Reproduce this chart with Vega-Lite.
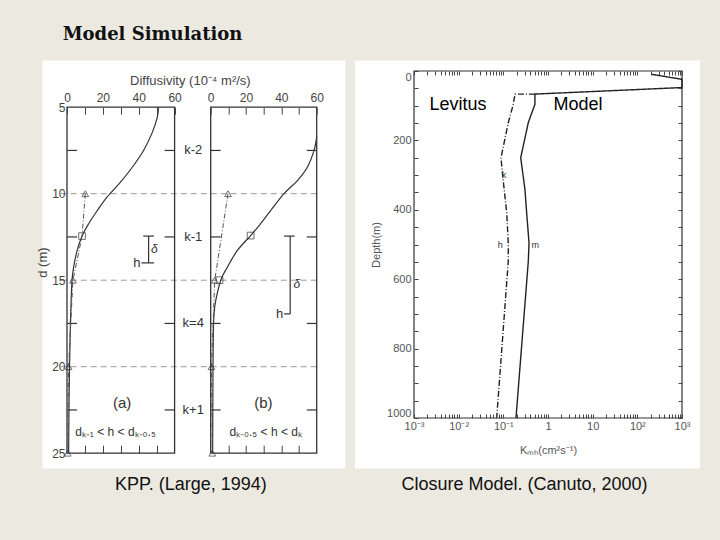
{
  "$schema": "https://vega.github.io/schema/vega-lite/v6.json",
  "background": "#ECE9E1",
  "padding": {"left": 36, "top": 26, "right": 26, "bottom": 52},
  "title": {"text": "Model Simulation", "anchor": "start", "dx": 26, "font": "DejaVu Serif", "fontSize": 18, "fontWeight": "bold", "color": "#111", "offset": 16},
  "datasets": {
    "one": [{}],
    "levels": [{"d": 10}, {"d": 15}, {"d": 20}],
    "klevels": [{"d": 7.5, "k": "k-2"}, {"d": 12.5, "k": "k-1"}, {"d": 17.5, "k": "k=4"}, {"d": 22.5, "k": "k+1"}],
    "a_solid": [{"K": 51, "d": 5}, {"K": 50.3, "d": 5.6}, {"K": 47.4, "d": 6.5}, {"K": 42.7, "d": 7.5}, {"K": 36.2, "d": 8.5}, {"K": 29.7, "d": 9.35}, {"K": 22.3, "d": 10.2}, {"K": 16.7, "d": 11}, {"K": 12, "d": 11.75}, {"K": 8.4, "d": 12.45}, {"K": 5.6, "d": 13.3}, {"K": 3.7, "d": 14.25}, {"K": 2.8, "d": 15}, {"K": 2.2, "d": 16.5}, {"K": 1.8, "d": 18}, {"K": 1.4, "d": 20}, {"K": 1.1, "d": 22.5}, {"K": 0.9, "d": 25}],
    "a_dash": [{"K": 10.2, "d": 10}, {"K": 8.4, "d": 12.45}, {"K": 3.3, "d": 15}, {"K": 0.9, "d": 20}, {"K": 0.4, "d": 25}],
    "a_marks": [{"K": 10.2, "d": 10, "kind": "level"}, {"K": 8.4, "d": 12.45, "kind": "boundary"}, {"K": 3.3, "d": 15, "kind": "level"}, {"K": 0.9, "d": 20, "kind": "level"}, {"K": 0.4, "d": 25, "kind": "level"}],
    "b_solid": [{"K": 60, "d": 6.7}, {"K": 58.5, "d": 7.5}, {"K": 54.7, "d": 8.47}, {"K": 49.1, "d": 9.24}, {"K": 41.5, "d": 10}, {"K": 34, "d": 10.97}, {"K": 27.4, "d": 11.84}, {"K": 22.6, "d": 12.42}, {"K": 15.1, "d": 13.28}, {"K": 9.4, "d": 14.25}, {"K": 5.7, "d": 15}, {"K": 2.8, "d": 16.2}, {"K": 1.9, "d": 16.95}, {"K": 1.5, "d": 18}, {"K": 1.3, "d": 20}, {"K": 1.2, "d": 22.5}, {"K": 1.1, "d": 25}],
    "b_dash": [{"K": 9.8, "d": 10}, {"K": 2.3, "d": 15}, {"K": 0.4, "d": 20}, {"K": 0.9, "d": 25}],
    "b_marks": [{"K": 9.8, "d": 10, "kind": "level"}, {"K": 22.6, "d": 12.42, "kind": "boundary"}, {"K": 2.3, "d": 15, "kind": "level"}, {"K": 5, "d": 15, "kind": "boundary"}, {"K": 0.4, "d": 20, "kind": "level"}, {"K": 0.9, "d": 25, "kind": "level"}],
    "closure": [
      {"series": "Model", "i": 1, "K": 209, "depth": 9.5},
      {"series": "Model", "i": 2, "K": 1000, "depth": 24},
      {"series": "Model", "i": 3, "K": 1000, "depth": 47.7},
      {"series": "Model", "i": 4, "K": 0.51, "depth": 66.5},
      {"series": "Model", "i": 5, "K": 0.51, "depth": 96},
      {"series": "Model", "i": 6, "K": 0.395, "depth": 135},
      {"series": "Model", "i": 7, "K": 0.362, "depth": 149},
      {"series": "Model", "i": 8, "K": 0.245, "depth": 250},
      {"series": "Model", "i": 9, "K": 0.305, "depth": 342},
      {"series": "Model", "i": 10, "K": 0.333, "depth": 409},
      {"series": "Model", "i": 11, "K": 0.376, "depth": 496},
      {"series": "Model", "i": 12, "K": 0.362, "depth": 549},
      {"series": "Model", "i": 13, "K": 0.192, "depth": 1000},
      {"series": "Levitus", "i": 1, "K": 0.51, "depth": 66.5},
      {"series": "Levitus", "i": 2, "K": 0.182, "depth": 66.5},
      {"series": "Levitus", "i": 3, "K": 0.167, "depth": 96},
      {"series": "Levitus", "i": 4, "K": 0.129, "depth": 149},
      {"series": "Levitus", "i": 5, "K": 0.0887, "depth": 250},
      {"series": "Levitus", "i": 6, "K": 0.097, "depth": 303},
      {"series": "Levitus", "i": 7, "K": 0.119, "depth": 408},
      {"series": "Levitus", "i": 8, "K": 0.129, "depth": 496},
      {"series": "Levitus", "i": 9, "K": 0.129, "depth": 549},
      {"series": "Levitus", "i": 10, "K": 0.071, "depth": 1000}
    ],
    "tags": [{"tag": "k", "K": 0.103, "depth": 300}, {"tag": "h", "K": 0.085, "depth": 500}, {"tag": "m", "K": 0.52, "depth": 500}]
  },
  "spacing": 8,
  "hconcat": [
    {
      "bounds": "flush",
      "spacing": 35.7,
      "title": {"text": "KPP. (Large, 1994)", "orient": "bottom", "anchor": "middle", "offset": 8, "font": "Liberation Sans", "fontSize": 18, "fontWeight": "normal", "color": "#111"},
      "hconcat": [
        {
          "width": 107.6,
          "height": 382.2,
          "resolve": {"axis": {"x": "independent", "y": "independent"}},
          "layer": [
            {"data": {"name": "one"}, "mark": {"type": "rect", "color": "white"},
             "encoding": {
               "x": {"datum": -13.77, "type": "quantitative", "scale": {"domain": [0, 60], "nice": false, "zero": false},
                     "axis": {"orient": "top", "offset": -36.2, "zindex": 1, "values": [0, 10, 20, 30, 40, 50, 60], "labelExpr": "datum.value % 20 == 0 ? datum.label : ''", "tickSize": -7, "labelPadding": 10, "labelFontSize": 12, "labelColor": "#444", "title": null, "labelFlush": false, "labelOverlap": false}},
               "x2": {"datum": 155.2},
               "y": {"datum": 2.3, "type": "quantitative", "scale": {"domain": [2.908, 25], "reverse": true, "nice": false, "zero": false},
                     "axis": {"orient": "left", "zindex": 1, "values": [5, 10, 15, 20, 25], "tickSize": 0, "labelPadding": 2, "labelFontSize": 12, "labelColor": "#444", "title": "d (m)", "titleFontSize": 13, "titleColor": "#444", "titlePadding": 2, "labelFlush": false, "labelOverlap": false}},
               "y2": {"datum": 25.88}}},
            {"data": {"name": "levels"}, "mark": {"type": "rule", "color": "#9a9a9a", "strokeDash": [6, 4], "strokeWidth": 1},
             "encoding": {"x": {"datum": -3.5, "type": "quantitative", "scale": {"domain": [0, 60], "nice": false, "zero": false}, "axis": null}, "x2": {"datum": 139},
               "y": {"field": "d", "type": "quantitative", "scale": {"domain": [2.908, 25], "reverse": true, "nice": false, "zero": false}, "axis": null}}},
            {"data": {"name": "one"}, "mark": {"type": "rect", "filled": false, "color": "#333", "strokeWidth": 1.3},
             "encoding": {
               "x": {"datum": 0, "type": "quantitative", "scale": {"domain": [0, 60], "nice": false, "zero": false},
                     "axis": {"orient": "bottom", "zindex": 1, "values": [10, 20, 30, 40, 50], "labels": false, "tickSize": -8, "title": null}},
               "x2": {"datum": 60},
               "y": {"datum": 5, "type": "quantitative", "scale": {"domain": [2.908, 25], "reverse": true, "nice": false, "zero": false}, "axis": null},
               "y2": {"datum": 25}}},
            {"data": {"name": "klevels"}, "mark": {"type": "rule", "color": "#333", "strokeWidth": 1.2},
             "encoding": {"x": {"datum": 0, "type": "quantitative", "scale": {"domain": [0, 60], "nice": false, "zero": false}, "axis": null}, "x2": {"datum": 5.6},
               "y": {"field": "d", "type": "quantitative", "scale": {"domain": [2.908, 25], "reverse": true, "nice": false, "zero": false}, "axis": null}}},
            {"data": {"name": "klevels"}, "mark": {"type": "rule", "color": "#333", "strokeWidth": 1.2},
             "encoding": {"x": {"datum": 54.4, "type": "quantitative", "scale": {"domain": [0, 60], "nice": false, "zero": false}, "axis": null}, "x2": {"datum": 60},
               "y": {"field": "d", "type": "quantitative", "scale": {"domain": [2.908, 25], "reverse": true, "nice": false, "zero": false}, "axis": null}}},
            {"data": {"name": "klevels"}, "mark": {"type": "text", "fontSize": 13, "color": "#333", "align": "center", "baseline": "middle"},
             "encoding": {"x": {"datum": 70.4, "type": "quantitative", "scale": {"domain": [0, 60], "nice": false, "zero": false}, "axis": null},
               "y": {"field": "d", "type": "quantitative", "scale": {"domain": [2.908, 25], "reverse": true, "nice": false, "zero": false}, "axis": null},
               "text": {"field": "k"}}},
            {"data": {"name": "a_solid"}, "mark": {"type": "line", "color": "#333", "strokeWidth": 1.2, "interpolate": "cardinal"},
             "encoding": {"x": {"field": "K", "type": "quantitative", "scale": {"domain": [0, 60], "nice": false, "zero": false}, "axis": null},
               "y": {"field": "d", "type": "quantitative", "scale": {"domain": [2.908, 25], "reverse": true, "nice": false, "zero": false}, "axis": null},
               "order": {"field": "d", "type": "quantitative"}}},
            {"data": {"name": "a_dash"}, "mark": {"type": "line", "color": "#555", "strokeWidth": 1, "strokeDash": [5, 2, 1, 2]},
             "encoding": {"x": {"field": "K", "type": "quantitative", "scale": {"domain": [0, 60], "nice": false, "zero": false}, "axis": null},
               "y": {"field": "d", "type": "quantitative", "scale": {"domain": [2.908, 25], "reverse": true, "nice": false, "zero": false}, "axis": null},
               "order": {"field": "d", "type": "quantitative"}}},
            {"data": {"name": "a_marks"}, "mark": {"type": "point", "filled": false, "color": "#333", "size": 45, "strokeWidth": 1},
             "encoding": {"x": {"field": "K", "type": "quantitative", "scale": {"domain": [0, 60], "nice": false, "zero": false}, "axis": null},
               "y": {"field": "d", "type": "quantitative", "scale": {"domain": [2.908, 25], "reverse": true, "nice": false, "zero": false}, "axis": null},
               "shape": {"field": "kind", "type": "nominal", "scale": {"domain": ["level", "boundary"], "range": ["triangle-up", "square"]}, "legend": null}}},
            {"data": {"name": "one"}, "mark": {"type": "rule", "color": "#333", "strokeWidth": 1.2},
             "encoding": {"x": {"datum": 45.5, "type": "quantitative", "scale": {"domain": [0, 60], "nice": false, "zero": false}, "axis": null},
               "y": {"datum": 12.45, "type": "quantitative", "scale": {"domain": [2.908, 25], "reverse": true, "nice": false, "zero": false}, "axis": null}, "y2": {"datum": 14}}},
            {"data": {"name": "one"}, "mark": {"type": "rule", "color": "#333", "strokeWidth": 1.2},
             "encoding": {"x": {"datum": 42.5, "type": "quantitative", "scale": {"domain": [0, 60], "nice": false, "zero": false}, "axis": null}, "x2": {"datum": 48.5},
               "y": {"datum": 12.45, "type": "quantitative", "scale": {"domain": [2.908, 25], "reverse": true, "nice": false, "zero": false}, "axis": null}}},
            {"data": {"name": "one"}, "mark": {"type": "rule", "color": "#333", "strokeWidth": 1.2},
             "encoding": {"x": {"datum": 41.5, "type": "quantitative", "scale": {"domain": [0, 60], "nice": false, "zero": false}, "axis": null}, "x2": {"datum": 48.5},
               "y": {"datum": 14, "type": "quantitative", "scale": {"domain": [2.908, 25], "reverse": true, "nice": false, "zero": false}, "axis": null}}},
            {"data": {"name": "one"}, "mark": {"type": "text", "text": "h", "fontSize": 13, "color": "#333", "align": "right", "baseline": "middle"},
             "encoding": {"x": {"datum": 41, "type": "quantitative", "scale": {"domain": [0, 60], "nice": false, "zero": false}, "axis": null},
               "y": {"datum": 14, "type": "quantitative", "scale": {"domain": [2.908, 25], "reverse": true, "nice": false, "zero": false}, "axis": null}}},
            {"data": {"name": "one"}, "mark": {"type": "text", "text": "δ", "fontSize": 12, "fontStyle": "italic", "color": "#333", "align": "left", "baseline": "middle"},
             "encoding": {"x": {"datum": 46.8, "type": "quantitative", "scale": {"domain": [0, 60], "nice": false, "zero": false}, "axis": null},
               "y": {"datum": 13.2, "type": "quantitative", "scale": {"domain": [2.908, 25], "reverse": true, "nice": false, "zero": false}, "axis": null}}},
            {"data": {"name": "one"}, "mark": {"type": "text", "text": "(a)", "fontSize": 15, "color": "#333", "align": "center", "baseline": "middle"},
             "encoding": {"x": {"datum": 30.7, "type": "quantitative", "scale": {"domain": [0, 60], "nice": false, "zero": false}, "axis": null},
               "y": {"datum": 22.1, "type": "quantitative", "scale": {"domain": [2.908, 25], "reverse": true, "nice": false, "zero": false}, "axis": null}}},
            {"data": {"name": "one"}, "mark": {"type": "text", "text": "dₖ₋₁ < h < dₖ₋₀.₅", "fontSize": 12, "color": "#333", "align": "center", "baseline": "middle"},
             "encoding": {"x": {"datum": 27, "type": "quantitative", "scale": {"domain": [0, 60], "nice": false, "zero": false}, "axis": null},
               "y": {"datum": 23.8, "type": "quantitative", "scale": {"domain": [2.908, 25], "reverse": true, "nice": false, "zero": false}, "axis": null}}},
            {"data": {"name": "one"}, "mark": {"type": "text", "text": "Diffusivity (10⁻⁴ m²/s)", "fontSize": 13, "color": "#444", "align": "center", "baseline": "middle"},
             "encoding": {"x": {"datum": 68.8, "type": "quantitative", "scale": {"domain": [0, 60], "nice": false, "zero": false}, "axis": null},
               "y": {"datum": 3.5, "type": "quantitative", "scale": {"domain": [2.908, 25], "reverse": true, "nice": false, "zero": false}, "axis": null}}}
          ]
        },
        {
          "width": 106,
          "height": 382.2,
          "resolve": {"axis": {"x": "independent", "y": "independent"}},
          "layer": [
            {"data": {"name": "one"}, "mark": {"type": "rect", "filled": false, "color": "#333", "strokeWidth": 1.3},
             "encoding": {
               "x": {"datum": 0, "type": "quantitative", "scale": {"domain": [0, 60], "nice": false, "zero": false},
                     "axis": {"orient": "top", "offset": -36.2, "zindex": 1, "values": [0, 10, 20, 30, 40, 50, 60], "labelExpr": "datum.value % 20 == 0 ? datum.label : ''", "tickSize": -7, "labelPadding": 10, "labelFontSize": 12, "labelColor": "#444", "title": null, "labelFlush": false, "labelOverlap": false}},
               "x2": {"datum": 60},
               "y": {"datum": 5, "type": "quantitative", "scale": {"domain": [2.908, 25], "reverse": true, "nice": false, "zero": false}, "axis": null},
               "y2": {"datum": 25}}},
            {"data": {"name": "klevels"}, "mark": {"type": "rule", "color": "#333", "strokeWidth": 1.2},
             "encoding": {"x": {"datum": 0, "type": "quantitative", "scale": {"domain": [0, 60], "nice": false, "zero": false},
                     "axis": {"orient": "bottom", "zindex": 1, "values": [10, 20, 30, 40, 50], "labels": false, "tickSize": -8, "title": null}},
               "x2": {"datum": 5.6},
               "y": {"field": "d", "type": "quantitative", "scale": {"domain": [2.908, 25], "reverse": true, "nice": false, "zero": false}, "axis": null}}},
            {"data": {"name": "klevels"}, "mark": {"type": "rule", "color": "#333", "strokeWidth": 1.2},
             "encoding": {"x": {"datum": 54.4, "type": "quantitative", "scale": {"domain": [0, 60], "nice": false, "zero": false}, "axis": null}, "x2": {"datum": 60},
               "y": {"field": "d", "type": "quantitative", "scale": {"domain": [2.908, 25], "reverse": true, "nice": false, "zero": false}, "axis": null}}},
            {"data": {"name": "b_solid"}, "mark": {"type": "line", "color": "#333", "strokeWidth": 1.2, "interpolate": "cardinal"},
             "encoding": {"x": {"field": "K", "type": "quantitative", "scale": {"domain": [0, 60], "nice": false, "zero": false}, "axis": null},
               "y": {"field": "d", "type": "quantitative", "scale": {"domain": [2.908, 25], "reverse": true, "nice": false, "zero": false}, "axis": null},
               "order": {"field": "d", "type": "quantitative"}}},
            {"data": {"name": "b_dash"}, "mark": {"type": "line", "color": "#555", "strokeWidth": 1, "strokeDash": [5, 2, 1, 2]},
             "encoding": {"x": {"field": "K", "type": "quantitative", "scale": {"domain": [0, 60], "nice": false, "zero": false}, "axis": null},
               "y": {"field": "d", "type": "quantitative", "scale": {"domain": [2.908, 25], "reverse": true, "nice": false, "zero": false}, "axis": null},
               "order": {"field": "d", "type": "quantitative"}}},
            {"data": {"name": "b_marks"}, "mark": {"type": "point", "filled": false, "color": "#333", "size": 45, "strokeWidth": 1},
             "encoding": {"x": {"field": "K", "type": "quantitative", "scale": {"domain": [0, 60], "nice": false, "zero": false}, "axis": null},
               "y": {"field": "d", "type": "quantitative", "scale": {"domain": [2.908, 25], "reverse": true, "nice": false, "zero": false}, "axis": null},
               "shape": {"field": "kind", "type": "nominal", "scale": {"domain": ["level", "boundary"], "range": ["triangle-up", "square"]}, "legend": null}}},
            {"data": {"name": "one"}, "mark": {"type": "rule", "color": "#333", "strokeWidth": 1.2},
             "encoding": {"x": {"datum": 45, "type": "quantitative", "scale": {"domain": [0, 60], "nice": false, "zero": false}, "axis": null},
               "y": {"datum": 12.45, "type": "quantitative", "scale": {"domain": [2.908, 25], "reverse": true, "nice": false, "zero": false}, "axis": null}, "y2": {"datum": 16.95}}},
            {"data": {"name": "one"}, "mark": {"type": "rule", "color": "#333", "strokeWidth": 1.2},
             "encoding": {"x": {"datum": 41.5, "type": "quantitative", "scale": {"domain": [0, 60], "nice": false, "zero": false}, "axis": null}, "x2": {"datum": 47.5},
               "y": {"datum": 12.45, "type": "quantitative", "scale": {"domain": [2.908, 25], "reverse": true, "nice": false, "zero": false}, "axis": null}}},
            {"data": {"name": "one"}, "mark": {"type": "rule", "color": "#333", "strokeWidth": 1.2},
             "encoding": {"x": {"datum": 41.5, "type": "quantitative", "scale": {"domain": [0, 60], "nice": false, "zero": false}, "axis": null}, "x2": {"datum": 45},
               "y": {"datum": 16.95, "type": "quantitative", "scale": {"domain": [2.908, 25], "reverse": true, "nice": false, "zero": false}, "axis": null}}},
            {"data": {"name": "one"}, "mark": {"type": "text", "text": "h", "fontSize": 13, "color": "#333", "align": "right", "baseline": "middle"},
             "encoding": {"x": {"datum": 41, "type": "quantitative", "scale": {"domain": [0, 60], "nice": false, "zero": false}, "axis": null},
               "y": {"datum": 16.95, "type": "quantitative", "scale": {"domain": [2.908, 25], "reverse": true, "nice": false, "zero": false}, "axis": null}}},
            {"data": {"name": "one"}, "mark": {"type": "text", "text": "δ", "fontSize": 12, "fontStyle": "italic", "color": "#333", "align": "left", "baseline": "middle"},
             "encoding": {"x": {"datum": 46.8, "type": "quantitative", "scale": {"domain": [0, 60], "nice": false, "zero": false}, "axis": null},
               "y": {"datum": 15.2, "type": "quantitative", "scale": {"domain": [2.908, 25], "reverse": true, "nice": false, "zero": false}, "axis": null}}},
            {"data": {"name": "one"}, "mark": {"type": "text", "text": "(b)", "fontSize": 15, "color": "#333", "align": "center", "baseline": "middle"},
             "encoding": {"x": {"datum": 29.8, "type": "quantitative", "scale": {"domain": [0, 60], "nice": false, "zero": false}, "axis": null},
               "y": {"datum": 22.1, "type": "quantitative", "scale": {"domain": [2.908, 25], "reverse": true, "nice": false, "zero": false}, "axis": null}}},
            {"data": {"name": "one"}, "mark": {"type": "text", "text": "dₖ₋₀.₅ < h < dₖ", "fontSize": 12, "color": "#333", "align": "center", "baseline": "middle"},
             "encoding": {"x": {"datum": 31.1, "type": "quantitative", "scale": {"domain": [0, 60], "nice": false, "zero": false}, "axis": null},
               "y": {"datum": 23.8, "type": "quantitative", "scale": {"domain": [2.908, 25], "reverse": true, "nice": false, "zero": false}, "axis": null}}}
          ]
        }
      ]
    },
    {
      "width": 268,
      "height": 347,
      "resolve": {"axis": {"x": "independent", "y": "independent"}},
      "title": {"text": "Closure Model. (Canuto, 2000)", "orient": "bottom", "anchor": "middle", "frame": "bounds", "dx": -3, "offset": 8, "font": "Liberation Sans", "fontSize": 18, "fontWeight": "normal", "color": "#111"},
      "layer": [
        {"data": {"name": "one"}, "mark": {"type": "rect", "color": "white"},
         "encoding": {
           "x": {"datum": 0.00004776, "type": "quantitative", "scale": {"type": "log", "domain": [0.001, 1000], "nice": false},
                 "axis": {"orient": "top", "zindex": 1, "values": [0.001, 0.002, 0.003, 0.004, 0.005, 0.006, 0.007, 0.008, 0.009, 0.01, 0.02, 0.03, 0.04, 0.05, 0.06, 0.07, 0.08, 0.09, 0.1, 0.2, 0.3, 0.4, 0.5, 0.6, 0.7, 0.8, 0.9, 1, 2, 3, 4, 5, 6, 7, 8, 9, 10, 20, 30, 40, 50, 60, 70, 80, 90, 100, 200, 300, 400, 500, 600, 700, 800, 900, 1000], "labels": false, "tickSize": -4, "title": null}},
           "x2": {"datum": 2529},
           "y": {"datum": -30.3, "type": "quantitative", "scale": {"domain": [0, 1000], "reverse": true, "nice": false, "zero": false},
                 "axis": {"orient": "right", "zindex": 1, "values": [0, 50, 100, 150, 200, 250, 300, 350, 400, 450, 500, 550, 600, 650, 700, 750, 800, 850, 900, 950, 1000], "labels": false, "tickSize": -4, "title": null}},
           "y2": {"datum": 1145.5}}},
        {"data": {"name": "one"}, "mark": {"type": "rect", "filled": false, "color": "#333", "strokeWidth": 1.2},
         "encoding": {
           "x": {"datum": 0.001, "type": "quantitative", "scale": {"type": "log", "domain": [0.001, 1000], "nice": false}, "axis": null},
           "x2": {"datum": 1000},
           "y": {"datum": 0, "type": "quantitative", "scale": {"domain": [0, 1000], "reverse": true, "nice": false, "zero": false}, "axis": null},
           "y2": {"datum": 1000}}},
        {"data": {"name": "closure"}, "mark": {"type": "line", "color": "#222", "strokeWidth": 1.4},
         "encoding": {
           "x": {"field": "K", "type": "quantitative", "scale": {"type": "log", "domain": [0.001, 1000], "nice": false},
                 "axis": {"orient": "bottom", "zindex": 1, "values": [0.001, 0.002, 0.003, 0.004, 0.005, 0.006, 0.007, 0.008, 0.009, 0.01, 0.02, 0.03, 0.04, 0.05, 0.06, 0.07, 0.08, 0.09, 0.1, 0.2, 0.3, 0.4, 0.5, 0.6, 0.7, 0.8, 0.9, 1, 2, 3, 4, 5, 6, 7, 8, 9, 10, 20, 30, 40, 50, 60, 70, 80, 90, 100, 200, 300, 400, 500, 600, 700, 800, 900, 1000],
                          "labelExpr": "datum.value == 0.001 ? '10⁻³' : datum.value == 0.01 ? '10⁻²' : datum.value == 0.1 ? '10⁻¹' : datum.value == 1 ? '1' : datum.value == 10 ? '10' : datum.value == 100 ? '10²' : datum.value == 1000 ? '10³' : ''",
                          "tickSize": -4, "labelPadding": 6, "labelFontSize": 11, "labelOverlap": false, "labelFlush": false, "title": "Kₘₕ(cm²s⁻¹)", "titleFontSize": 11, "titlePadding": 13}},
           "y": {"field": "depth", "type": "quantitative", "scale": {"domain": [0, 1000], "reverse": true, "nice": false, "zero": false},
                 "axis": {"orient": "left", "zindex": 1, "values": [0, 50, 100, 150, 200, 250, 300, 350, 400, 450, 500, 550, 600, 650, 700, 750, 800, 850, 900, 950, 1000], "labelExpr": "datum.value % 200 == 0 ? datum.label : ''", "format": "d", "tickSize": -4, "labelPadding": 7, "labelFontSize": 11, "labelOverlap": false, "labelFlush": true, "title": "Depth(m)", "titleFontSize": 11, "titlePadding": 5}},
           "strokeDash": {"field": "series", "type": "nominal", "scale": {"domain": ["Model", "Levitus"], "range": [[1, 0], [6, 2, 1, 2]]}, "legend": null},
           "order": {"field": "i", "type": "quantitative"}}},
        {"data": {"name": "tags"}, "mark": {"type": "text", "fontSize": 9, "color": "#333", "align": "center", "baseline": "middle"},
         "encoding": {
           "x": {"field": "K", "type": "quantitative", "scale": {"type": "log", "domain": [0.001, 1000], "nice": false}, "axis": null},
           "y": {"field": "depth", "type": "quantitative", "scale": {"domain": [0, 1000], "reverse": true, "nice": false, "zero": false}, "axis": null},
           "text": {"field": "tag"}}},
        {"data": {"name": "one"}, "mark": {"type": "text", "text": "Levitus", "font": "Liberation Sans", "fontSize": 18, "color": "#000", "align": "center", "baseline": "middle"},
         "encoding": {
           "x": {"datum": 0.00966, "type": "quantitative", "scale": {"type": "log", "domain": [0.001, 1000], "nice": false}, "axis": null},
           "y": {"datum": 97, "type": "quantitative", "scale": {"domain": [0, 1000], "reverse": true, "nice": false, "zero": false}, "axis": null}}},
        {"data": {"name": "one"}, "mark": {"type": "text", "text": "Model", "font": "Liberation Sans", "fontSize": 18, "color": "#000", "align": "center", "baseline": "middle"},
         "encoding": {
           "x": {"datum": 4.7, "type": "quantitative", "scale": {"type": "log", "domain": [0.001, 1000], "nice": false}, "axis": null},
           "y": {"datum": 97, "type": "quantitative", "scale": {"domain": [0, 1000], "reverse": true, "nice": false, "zero": false}, "axis": null}}}
      ]
    }
  ],
  "config": {
    "view": {"stroke": null},
    "axis": {"domain": false, "grid": false, "labelFont": "Liberation Sans", "titleFont": "Liberation Sans", "labelColor": "#555", "titleColor": "#555", "tickColor": "#444", "labelFontSize": 11, "titleFontSize": 12, "titleFontWeight": "normal"},
    "text": {"font": "Liberation Sans"}
  }
}
